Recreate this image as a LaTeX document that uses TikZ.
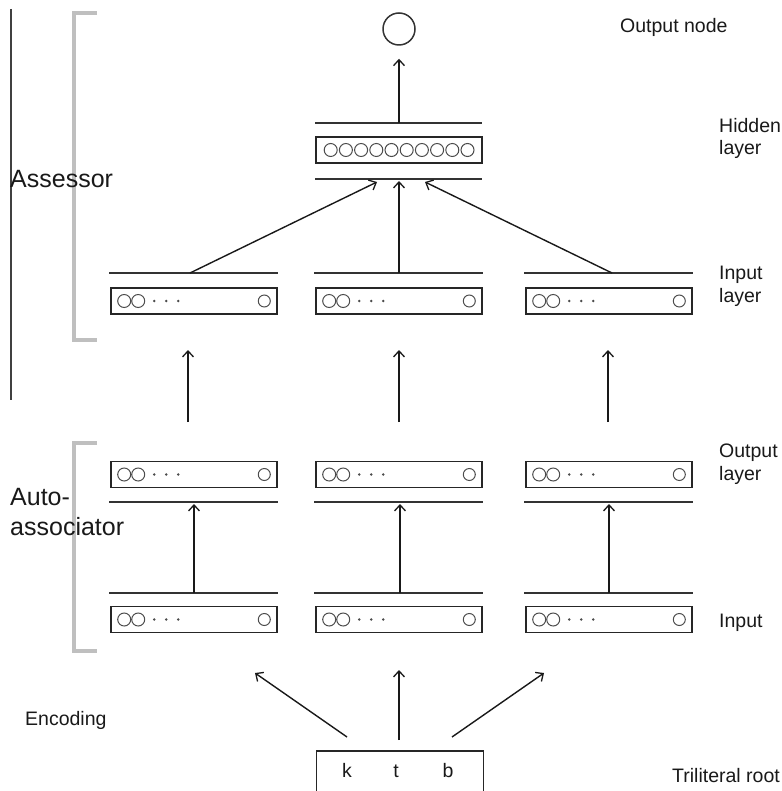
\documentclass[tikz,border=0pt]{standalone}
\usepackage{fontspec}
\setmainfont{Liberation Sans}
\usetikzlibrary{arrows.meta,calc}
\tikzset{
  layerbox/.style={draw=black!85, line width=1.6pt, rectangle, minimum width=166pt, minimum height=26pt, inner sep=0pt},
  rootbox/.style={draw=black!85, line width=1.6pt, rectangle, minimum width=167pt, minimum height=50pt, inner sep=0pt},
  sepline/.style={draw=black!80, line width=1.6pt},
  conn/.style={draw=black!90, line width=1.4pt, -{Straight Barb[length=6pt,width=11pt,line width=1.3pt]}},
  unitc/.style={draw=black!70, line width=1pt, circle, minimum size=13pt, inner sep=0pt},
  dotc/.style={fill=black!70, circle, minimum size=2.8pt, inner sep=0pt},
  brk/.style={draw=black!25, line width=3.2pt},
  lbl/.style={font=\fontsize{19.5}{22.5}\selectfont, text=black!90, inner sep=0pt, align=left, anchor=base west},
  biglbl/.style={font=\fontsize{25}{30}\selectfont, text=black!90, inner sep=0pt, align=left, anchor=base west},
  letter/.style={font=\fontsize{19.5}{22.5}\selectfont, text=black!90, inner sep=0pt, anchor=base},
}
\newcommand\smallunits[1]{%
  \node[unitc] (#1-u1) at ($(#1.west)+(14,0)$) {};
  \node[unitc] (#1-u2) at ($(#1.west)+(28,0)$) {};
  \node[dotc] (#1-d1) at ($(#1.west)+(44,0)$) {};
  \node[dotc] (#1-d2) at ($(#1.west)+(56,0)$) {};
  \node[dotc] (#1-d3) at ($(#1.west)+(68,0)$) {};
  \node[unitc, minimum size=12pt] (#1-u3) at ($(#1.east)+(-13.5,0)$) {};
}
\begin{document}
\begin{tikzpicture}[x=1pt,y=-1pt]
\useasboundingbox (0,0) rectangle (781,791);

% left black rule and grey brackets
\draw[draw=black!75, line width=1.2pt] (11,9) -- (11,400);
\draw[brk] (97,13) -- (74,13) -- (74,340) -- (97,340);
\draw[brk] (97,443) -- (74,443) -- (74,651) -- (97,651);

% output node
\node[draw=black!80, line width=1.5pt, circle, minimum size=32pt, inner sep=0pt] (out) at (399,29) {};

% hidden layer
\node[layerbox] (hid) at (399,150) {};
\foreach \i in {0,...,9} {
  \node[unitc] (hid-u\i) at ($(hid.west)+(15.5+15.2*\i,0)$) {};
}
\coordinate (htL) at (315,123); \coordinate (htR) at (482,123);
\coordinate (hbL) at (315,179); \coordinate (hbR) at (482,179);
\draw[sepline] (htL) -- (htR);
\draw[sepline] (hbL) -- (hbR);
\coordinate (ht) at (399,123);
\draw[conn] (ht) -- ($(out.south)+(0,13)$);

% assessor input layer
\foreach \n/\x in {ai1/194, ai2/399, ai3/609} {
  \node[layerbox] (\n) at (\x,301) {};
  \smallunits{\n}
  \draw[sepline] ($(\n.west)+(-1,-28)$) -- ($(\n.east)+(0,-28)$);
}
\coordinate (as1) at (190,273); \coordinate (as2) at (399,273); \coordinate (as3) at (612,273);
\coordinate (hb1) at (377,182); \coordinate (hb2) at (399,181); \coordinate (hb3) at (425,182);
\draw[conn] (as1) -- (hb1);
\draw[conn] (as2) -- (hb2);
\draw[conn] (as3) -- (hb3);

% links between auto-associators and assessor
\foreach \k/\x in {1/188, 2/399, 3/608} {
  \coordinate (lk\k a) at (\x,422);
  \coordinate (lk\k b) at (\x,350);
  \draw[conn] (lk\k a) -- (lk\k b);
}

% auto-associator output and input layers
\foreach \n/\m/\x in {ao1/ii1/194, ao2/ii2/399, ao3/ii3/609} {
  \node[layerbox] (\n) at (\x,474.5) {};
  \smallunits{\n}
  \draw[sepline] ($(\n.west)+(-1,27.5)$) -- ($(\n.east)+(0,27.5)$);
  \node[layerbox] (\m) at (\x,619.5) {};
  \smallunits{\m}
  \draw[sepline] ($(\m.west)+(-1,-26.5)$) -- ($(\m.east)+(0,-26.5)$);
}
\foreach \k/\x in {1/194, 2/400, 3/609} {
  \coordinate (au\k a) at (\x,593);
  \coordinate (au\k b) at (\x,504);
  \draw[conn] (au\k a) -- (au\k b);
}

% triliteral root
\node[rootbox] (root) at (400,776) {};
\node[letter] (lk) at (347,777) {k};
\node[letter] (lt) at (396,777) {t};
\node[letter] (lb) at (448,777) {b};
\coordinate (e1a) at (347,737); \coordinate (e1b) at (255,673);
\coordinate (e2a) at (399,740); \coordinate (e2b) at (399,670);
\coordinate (e3a) at (452,737); \coordinate (e3b) at (544,673);
\draw[conn] (e1a) -- (e1b);
\draw[conn] (e2a) -- (e2b);
\draw[conn] (e3a) -- (e3b);

% labels
\node[lbl] (tOut) at (620,33) {Output node};
\node[lbl] (tHid) at (719,155) {Hidden\\layer};
\node[lbl] (tIn) at (719,302) {Input\\layer};
\node[lbl] (tOl) at (719,480) {Output\\layer};
\node[lbl] (tIi) at (719,627) {Input};
\node[lbl] (tTri) at (672,782) {Triliteral root};
\node[lbl] (tEnc) at (25,725) {Encoding};
\node[biglbl] (tAss) at (10,188) {Assessor};
\node[biglbl] (tAuto) at (10,535) {Auto-\\associator};
\end{tikzpicture}
\end{document}
